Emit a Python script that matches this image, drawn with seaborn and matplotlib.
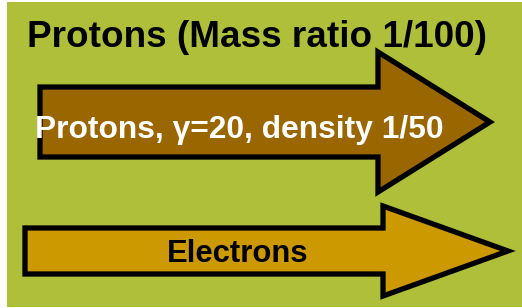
import matplotlib
matplotlib.use("Agg")
import matplotlib.pyplot as plt
from matplotlib.patches import Polygon, Rectangle
import seaborn as sns

# Texts and colours of the slide
title = "Protons (Mass ratio 1/100)"
arrow_labels = ["Protons, \u03b3=20, density 1/50", "Electrons"]
arrow_colors = ["#996600", "#CC9900"]
label_colors = ["white", "black"]
bg_color = "#B0BF3A"

# arrow geometry in pixels: (x_left, x_notch, x_tip, y_center, shaft half-height, head half-height)
arrows = [(40, 378, 490, 122, 35, 70),
          (25, 383, 508, 251, 23, 45)]
label_pos = [(35, 138, 22.9), (167, 262, 22.3)]

sns.set_theme(style="white")
plt.rcParams["font.family"] = ["Liberation Sans", "DejaVu Sans"]

fig = plt.figure(figsize=(5.22, 3.08), dpi=100)
ax = fig.add_axes([0, 0, 1, 1])
ax.set_xlim(0, 522)
ax.set_ylim(308, 0)
ax.axis("off")

ax.add_patch(Rectangle((7, 2), 515, 305, facecolor=bg_color, edgecolor="none"))

for (x0, xn, xt, yc, sh, hh), col in zip(arrows, arrow_colors):
    pts = [(x0, yc - sh), (xn, yc - sh), (xn, yc - hh), (xt, yc),
           (xn, yc + hh), (xn, yc + sh), (x0, yc + sh)]
    ax.add_patch(Polygon(pts, closed=True, facecolor=col, edgecolor="black",
                         linewidth=3.8, joinstyle="miter"))

ax.text(27, 47, title, fontsize=26.6, fontweight="bold", color="black",
        ha="left", va="baseline")

for lab, (x, y, fs), c in zip(arrow_labels, label_pos, label_colors):
    ax.text(x, y, lab, fontsize=fs, fontweight="bold", color=c,
            ha="left", va="baseline")

fig.savefig("out.png", dpi=100)
